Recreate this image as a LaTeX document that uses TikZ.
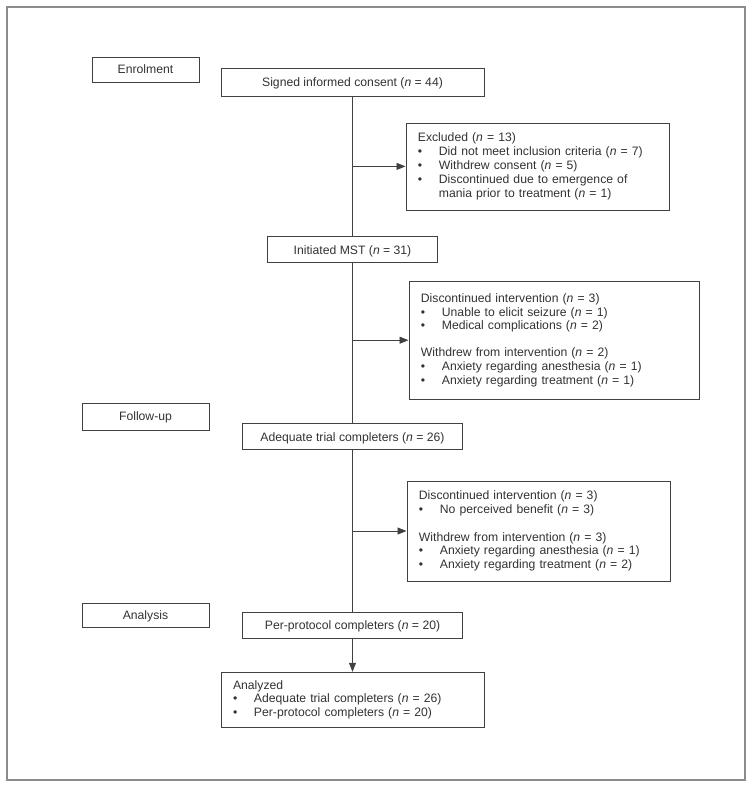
\documentclass[tikz,border=0pt]{standalone}
\usepackage{fontspec}
\setmainfont{Liberation Sans}
\usetikzlibrary{arrows.meta, positioning, calc}
\definecolor{LineGray}{RGB}{65,65,65}
\definecolor{FrameGray}{RGB}{140,140,140}
\definecolor{TextGray}{RGB}{50,50,50}
\newcommand{\bul}{\makebox[21pt][l]{\textbullet}}
\newcommand{\nn}[1]{(\textit{n} = #1)}
\tikzset{
  flowbox/.style={draw=LineGray, line width=0.8pt, rectangle, minimum height=26pt, inner sep=0pt, text depth=0pt},
  stagebox/.style={draw=LineGray, line width=0.8pt, rectangle, minimum height=26pt, inner sep=0pt, text depth=0pt},
  sidebox/.style={draw=LineGray, line width=0.8pt, rectangle, align=left, anchor=west, inner xsep=12pt, inner ysep=6pt},
  flowline/.style={draw=LineGray, line width=0.8pt},
  flowarrow/.style={draw=LineGray, line width=0.8pt, -{Triangle[length=9pt, width=7pt]}}
}

\begin{document}
\begin{tikzpicture}[every node/.style={font=\fontsize{12.2}{13.8}\selectfont, text=TextGray}]
  \useasboundingbox (0,0) rectangle (753pt,-787pt);
  \draw[FrameGray, line width=1.3pt] (7pt,-7pt) rectangle (745pt,-780pt);

  % stages
  \node[stagebox, minimum width=107pt, minimum height=25pt] (enrol) at (145.5pt,-69.5pt) {Enrolment};
  \node[stagebox, minimum width=127pt, minimum height=27pt] (follow) at (145.5pt,-416.5pt) {Follow-up};
  \node[stagebox, minimum width=127pt, minimum height=24pt] (analysis) at (145.5pt,-615pt) {Analysis};

  % main column
  \node[flowbox, minimum width=263pt, minimum height=28pt] (consent) at (352.5pt,-82pt) {Signed informed consent \nn{44}};
  \node[flowbox, minimum width=170pt, below=140pt of consent] (mst) {Initiated MST \nn{31}};
  \node[flowbox, minimum width=220pt, below=160pt of mst] (adequate) {Adequate trial completers \nn{26}};
  \node[flowbox, minimum width=220pt, below=162pt of adequate] (perprot) {Per-protocol completers \nn{20}};
  \node[sidebox, anchor=north, text width=239pt, minimum height=55pt, below=33pt of perprot] (analyzed)
    {Analyzed\\ \bul Adequate trial completers \nn{26}\\ \bul Per-protocol completers \nn{20}};

  % side boxes
  \node[sidebox, text width=239pt, minimum height=87pt] (excluded) at ($(consent.south)!0.5!(mst.north)+(53pt,0)$)
    {Excluded \nn{13}\\
     \bul Did not meet inclusion criteria \nn{7}\\
     \bul Withdrew consent \nn{5}\\
     \bul Discontinued due to emergence of\\
     \hspace*{21pt}mania prior to treatment \nn{1}};
  \node[sidebox, text width=266pt, minimum height=118pt] (drop1) at ($(mst.south)!0.5!(adequate.north)+(56pt,3pt)$)
    {Discontinued intervention \nn{3}\\
     \bul Unable to elicit seizure \nn{1}\\
     \bul Medical complications \nn{2}\\[13pt]
     Withdrew from intervention \nn{2}\\
     \bul Anxiety regarding anesthesia \nn{1}\\
     \bul Anxiety regarding treatment \nn{1}};
  \node[sidebox, text width=239pt, minimum height=100pt] (drop2) at ($(adequate.south)!0.5!(perprot.north)+(54pt,0)$)
    {Discontinued intervention \nn{3}\\
     \bul No perceived benefit \nn{3}\\[14pt]
     Withdrew from intervention \nn{3}\\
     \bul Anxiety regarding anesthesia \nn{1}\\
     \bul Anxiety regarding treatment \nn{2}};

  \draw[flowline] (consent) -- (mst);
  \draw[flowline] (mst) -- (adequate);
  \draw[flowline] (adequate) -- (perprot);
  \draw[flowarrow] (perprot) -- (analyzed);
  \draw[flowarrow] (excluded.west -| consent.south) -- (excluded.west);
  \draw[flowarrow] (drop1.west -| consent.south) -- (drop1.west);
  \draw[flowarrow] (drop2.west -| consent.south) -- (drop2.west);
\end{tikzpicture}
\end{document}
